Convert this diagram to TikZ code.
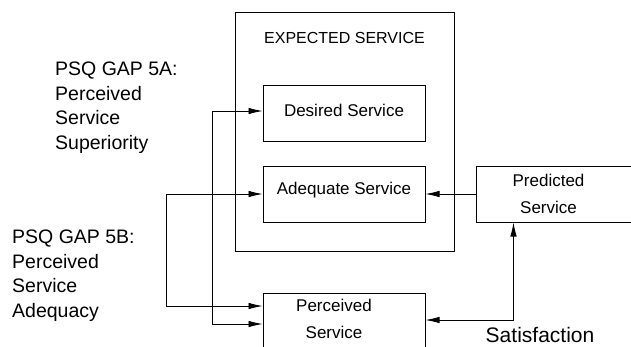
\documentclass[tikz,border=0pt]{standalone}
\usepackage{fontspec}
\setmainfont{Liberation Sans}
\usetikzlibrary{arrows.meta}
\begin{document}
\begin{tikzpicture}[x=1pt,y=-1pt,
  box/.style={draw, line width=1pt, inner sep=0pt},
  lbl/.style={font=\fontsize{17}{27}\selectfont, align=center, inner sep=0pt},
  side/.style={font=\fontsize{19.5}{24.5}\selectfont, align=left, inner sep=0pt, anchor=north west},
  con/.style={line width=0.8pt, {Latex[length=14pt,width=6.5pt]}-{Latex[length=14pt,width=6.5pt]}},
  con1/.style={line width=0.8pt, -{Latex[length=14pt,width=6.5pt]}}]
\useasboundingbox (0,0) rectangle (631,346);
\clip (0,0) rectangle (631,346);
% boxes
\node[box, minimum width=219pt, minimum height=239pt] (exp) at (344.5,131.5) {};
\node[font=\fontsize{16}{18}\selectfont, inner sep=0pt] (exptitle) at (344.5,38) {EXPECTED SERVICE};
\node[box, minimum width=162pt, minimum height=56pt,
  label={[lbl, name=destxt, yshift=3pt]center:Desired Service}] (des) at (344,113) {};
\node[box, minimum width=162pt, minimum height=56pt,
  label={[lbl, name=adetxt, yshift=4pt]center:Adequate Service}] (ade) at (344,194) {};
\node[box, minimum width=169pt, minimum height=56pt,
  label={[lbl, name=predtxt, xshift=-12pt]center:Predicted\\Service}] (pred) at (560.5,194) {};
\node[box, minimum width=162pt, minimum height=59pt,
  label={[lbl, name=perctxt, xshift=-10pt, yshift=3.7pt]center:Perceived\\Service}] (perc) at (344,322.5) {};
% side texts
\node[side] (gapA) at (55,62) {PSQ GAP 5A:\\Perceived\\Service\\Superiority};
\node[side] (gapB) at (12,230) {PSQ GAP 5B:\\Perceived\\Service\\Adequacy};
\node[font=\fontsize{21}{24}\selectfont, inner sep=0pt, anchor=base] (sat) at (540,342) {Satisfaction};
% connectors
\coordinate (v1) at (212,0);
\coordinate (v2) at (166,0);
\coordinate (desin) at ([yshift=2pt]des.west);
\coordinate (percinA) at ([yshift=-1.5pt]perc.west);
\coordinate (percinB) at ([yshift=16.5pt]perc.west);
\coordinate (percout) at ([yshift=2.5pt]perc.east);
\coordinate (predin) at ([xshift=38pt]pred.south west);
\draw[con] (percinA) -| (v1 |- desin) -- (desin);
\draw[con] (percinB) -| (v2 |- ade.west) -- (ade.west);
\draw[con1] (pred.west) -- (ade.east);
\draw[con] (percout) -| (predin);
\end{tikzpicture}
\end{document}
